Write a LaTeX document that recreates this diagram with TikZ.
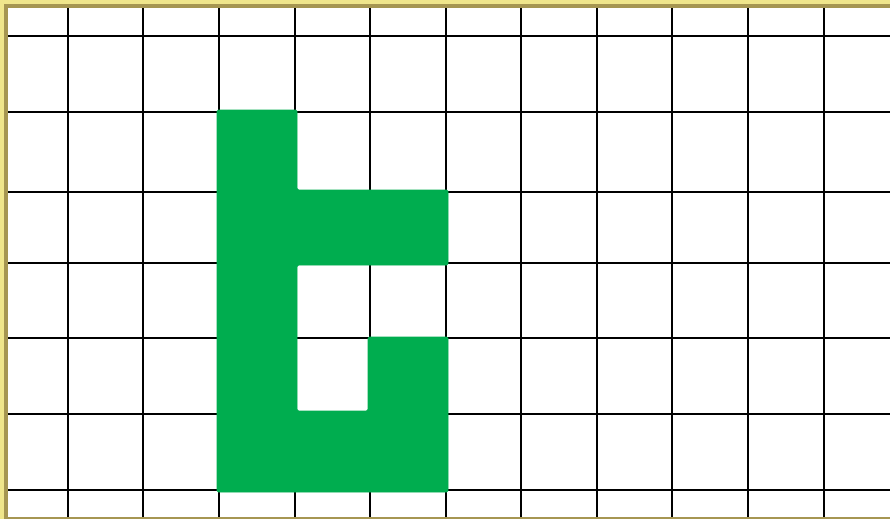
\documentclass[tikz,border=0pt]{standalone}
\usepackage{tikz}

\definecolor{shapegreen}{RGB}{0,173,79}
\definecolor{framelight}{RGB}{240,230,140}
\definecolor{framedark}{RGB}{166,150,82}

\tikzset{
  gridline/.style={black, line width=1.6pt},
  cellshape/.style={fill=shapegreen, draw=shapegreen, line width=0.8pt, rounded corners=1.5pt}
}

\begin{document}
\begin{tikzpicture}[x=1pt, y=-1pt]
  \useasboundingbox (0,0) rectangle (890,519);
  \fill[white] (0,0) rectangle (890,519);
  % grid
  \foreach \gx in {68,143,219,295,370,446,521,597,672,748,824}
    \draw[gridline] (\gx,6) -- (\gx,519);
  \foreach \gy in {36,112,192,263,338,414,490}
    \draw[gridline] (8,\gy) -- (890,\gy);
  % green figure
  \draw[cellshape] (217,110) -- (297,110) -- (297,190) -- (448,190) -- (448,265)
    -- (297,265) -- (297,411) -- (368,411) -- (368,337) -- (448,337)
    -- (448,492) -- (217,492) -- cycle;
  % frame
  \fill[framelight] (0,0) rectangle (890,4);
  \fill[framelight] (0,0) rectangle (4,519);
  \fill[framedark] (4,4) rectangle (890,8);
  \fill[framedark] (4,4) rectangle (8,519);
  \fill[framedark] (8,517) rectangle (890,519);
\end{tikzpicture}
\end{document}
